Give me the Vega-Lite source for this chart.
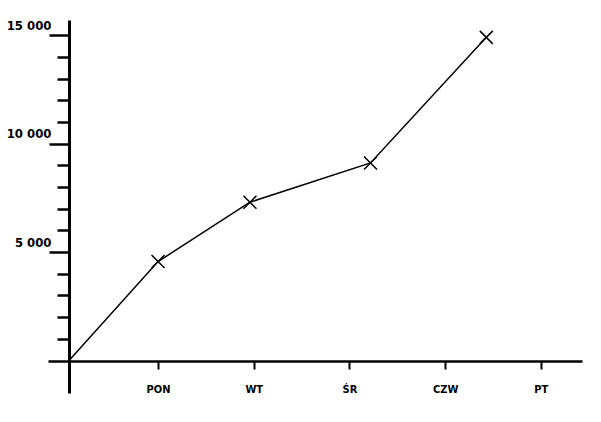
{
  "$schema": "https://vega.github.io/schema/vega-lite/v6.json",
  "autosize": "none",
  "padding": {"left": 48, "top": 20, "right": 19, "bottom": 29},
  "width": 534,
  "height": 373,
  "background": "white",
  "config": {
    "view": {"stroke": null},
    "axis": {"grid": false, "domainColor": "black", "tickColor": "black", "labelColor": "black", "labelFont": "Liberation Sans Narrow, DejaVu Sans Condensed, Liberation Sans, sans-serif", "labelFontWeight": "bold"}
  },
  "data": {"values": [
    {"day": 0.07, "value": 0},
    {"day": 1.0, "value": 4560},
    {"day": 1.96, "value": 7300},
    {"day": 3.22, "value": 9110},
    {"day": 4.43, "value": 14900}
  ]},
  "encoding": {
    "x": {
      "field": "day", "type": "quantitative",
      "scale": {"domain": [-0.15, 5.43], "nice": false, "zero": false},
      "axis": {"title": null, "values": [1, 2, 3, 4, 5],
        "labelExpr": "['','PON','WT','ŚR','CZW','PT'][datum.value]",
        "offset": -32, "domainWidth": 2.5, "tickSize": 8, "tickWidth": 2,
        "labelPadding": 14, "labelFontSize": 11, "labelBaseline": "top"}
    },
    "y": {
      "field": "value", "type": "quantitative",
      "scale": {"domain": [-1500, 15700], "nice": false, "zero": false},
      "axis": {"title": null,
        "values": [1000, 2000, 3000, 4000, 5000, 6000, 7000, 8000, 9000, 10000, 11000, 12000, 13000, 14000, 15000],
        "labelExpr": "datum.value % 5000 == 0 ? replace(format(datum.value, ','), ',', ' ') : ''",
        "offset": -21, "domainWidth": 3, "tickWidth": 2.5,
        "tickSize": {"condition": {"test": "datum.value % 5000 == 0", "value": 20}, "value": 12},
        "labelPadding": -2, "labelFontSize": 13, "labelBaseline": "bottom", "labelOffset": -3}
    }
  },
  "layer": [
    {"mark": {"type": "line", "color": "black", "strokeWidth": 1.5}},
    {"transform": [{"filter": "datum.value > 0"}],
     "mark": {"type": "point", "shape": "M-1,-1L1,1M-1,1L1,-1", "size": 169, "stroke": "black", "strokeWidth": 1.5, "filled": false, "opacity": 1}}
  ]
}
